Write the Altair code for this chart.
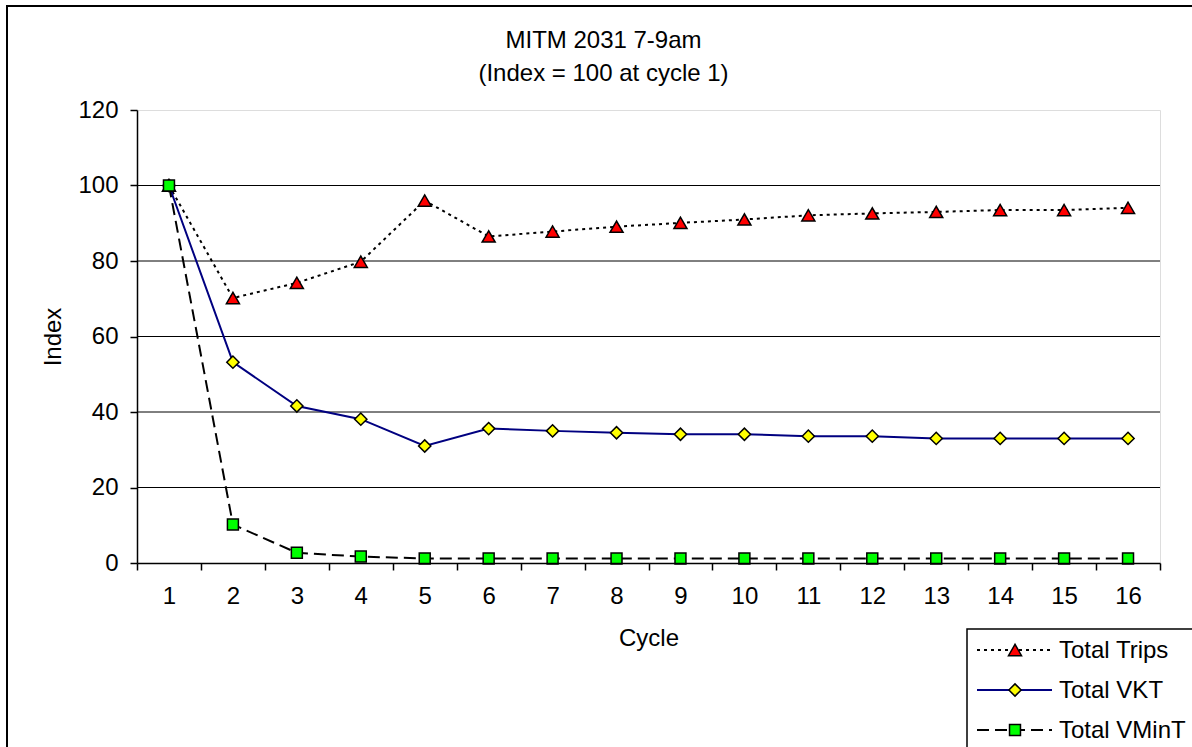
import altair as alt
import pandas as pd

FONT = "Liberation Sans"

cycles = list(range(1, 17))
total_trips = [100, 70.2, 74.2, 79.8, 96.0, 86.5, 87.8, 89.1, 90.1, 91.0, 92.1, 92.6, 93.0, 93.5, 93.5, 94.1]
total_vkt = [100, 53.2, 41.6, 38.1, 31.0, 35.6, 35.0, 34.5, 34.1, 34.1, 33.6, 33.6, 33.0, 33.0, 33.0, 33.0]
total_vmint = [100, 10.2, 2.7, 1.7, 1.2, 1.2, 1.2, 1.2, 1.2, 1.2, 1.2, 1.2, 1.2, 1.2, 1.2, 1.2]

series_names = ["Total Trips", "Total VKT", "Total VMinT"]
series_values = [total_trips, total_vkt, total_vmint]
grid_values = [20, 40, 60, 80, 100]

rows = []
for name, vals in zip(series_names, series_values):
    for c, v in zip(cycles, vals):
        rows.append({"cycle": c, "series": name, "value": v})
df = pd.DataFrame(rows)

# plot area size in pixels
W, H = 1023, 453

line_style = {
    "Total Trips": dict(color="black", strokeDash=[3, 4], strokeWidth=2),
    "Total VKT": dict(color="#000080", strokeWidth=2),
    "Total VMinT": dict(color="black", strokeDash=[12, 6], strokeWidth=2),
}
marker_style = {
    "Total Trips": dict(shape="triangle-up", fill="#ff0000", size=170),
    "Total VKT": dict(shape="diamond", fill="#ffff00", size=150),
    "Total VMinT": dict(shape="square", fill="#00ff00", size=120),
}

x_enc = alt.X(
    "cycle:O",
    scale=alt.Scale(type="band", paddingInner=0, paddingOuter=0),
    axis=alt.Axis(
        title="Cycle", labelAngle=0, tickBand="extent", grid=False,
        labelFontSize=24, labelFont=FONT, labelColor="black", labelPadding=14,
        titleFontSize=24, titleFont=FONT, titleFontWeight="normal", titleColor="black",
        titlePadding=18, tickSize=7, tickColor="black", domainColor="black",
        domainWidth=1.5, tickWidth=1.5, zindex=1,
    ),
)
y_scale = alt.Scale(domain=[0, 120], nice=False, zero=True)
y_enc = alt.Y(
    "value:Q",
    scale=y_scale,
    axis=alt.Axis(
        title="Index", values=[0, 20, 40, 60, 80, 100, 120], grid=False,
        labelFontSize=24, labelFont=FONT, labelColor="black", labelPadding=12,
        titleFontSize=24, titleFont=FONT, titleFontWeight="normal", titleColor="black",
        titlePadding=12, tickSize=7, tickColor="black", domainColor="black",
        domainWidth=1.5, tickWidth=1.5, zindex=1,
    ),
)

one_row = pd.DataFrame({"k": [0]})

# outer frame of the whole figure
frame = alt.Chart(one_row).mark_rect(fillOpacity=0, stroke="black", strokeWidth=2).encode(
    x=alt.value(7 - 137), y=alt.value(6 - 110),
    x2=alt.value(W + 60), y2=alt.value(H + 220),
)

grid = alt.Chart(pd.DataFrame({"g": grid_values})).mark_rule(
    color="black", strokeWidth=1
).encode(y=alt.Y("g:Q", scale=y_scale))

lines = []
points = []
for name in series_names:
    base = alt.Chart(df).transform_filter(alt.datum.series == name)
    lines.append(base.mark_line(**line_style[name]).encode(x=x_enc, y=y_enc))
    ms = marker_style[name]
    points.append(
        base.mark_point(filled=True, shape=ms["shape"], fill=ms["fill"], size=ms["size"],
                        stroke="black", strokeWidth=1.5, opacity=1).encode(x=x_enc, y=y_enc)
    )

# legend box at the lower right
lx0, ly0 = 967 - 137, 629 - 110
legend_box = alt.Chart(one_row).mark_rect(fill="white", stroke="black", strokeWidth=1.5).encode(
    x=alt.value(lx0), y=alt.value(ly0), x2=alt.value(W + 60), y2=alt.value(H + 220),
)
legend_layers = [legend_box]
for i, name in enumerate(series_names):
    yy = ly0 + 21 + i * 40
    legend_layers.append(
        alt.Chart(one_row).mark_rule(**line_style[name]).encode(
            x=alt.value(lx0 + 10), x2=alt.value(lx0 + 85), y=alt.value(yy)
        )
    )
    ms = marker_style[name]
    legend_layers.append(
        alt.Chart(one_row).mark_point(filled=True, shape=ms["shape"], fill=ms["fill"], size=ms["size"],
                                      stroke="black", strokeWidth=1.5, opacity=1).encode(
            x=alt.value(lx0 + 48), y=alt.value(yy)
        )
    )
    legend_layers.append(
        alt.Chart(one_row).mark_text(align="left", baseline="middle", fontSize=24, font=FONT,
                                     color="black").encode(
            x=alt.value(lx0 + 92), y=alt.value(yy + 1), text=alt.value(name)
        )
    )

chart = alt.layer(frame, grid, *lines, *points, *legend_layers).properties(
    width=W,
    height=H,
    title=alt.TitleParams(
        text=["MITM 2031 7-9am", "(Index = 100 at cycle 1)"],
        fontSize=24, font=FONT, fontWeight="normal", color="black",
        anchor="middle", dx=-45, lineHeight=33, offset=-100, baseline="alphabetic",
    ),
    autosize=alt.AutoSizeParams(type="none"),
    padding={"left": 137, "top": 110, "right": 32, "bottom": 184},
).configure_view(
    stroke="#808080", strokeWidth=2
).configure(background="white")

chart.save("out.html", embed_options={"renderer": "svg", "actions": False})
